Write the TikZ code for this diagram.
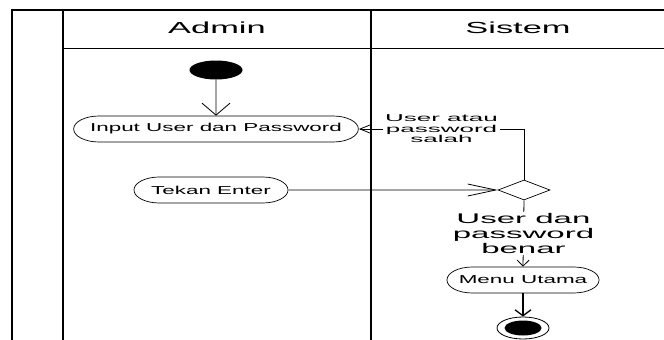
\documentclass[tikz,border=0pt]{standalone}
\usepackage{fontspec}
\setmainfont{Liberation Sans}
\usepackage{tikz}
\usetikzlibrary{shapes.geometric,shapes.misc,arrows.meta,positioning}

\begin{document}
\begin{tikzpicture}[x=1pt, y=-1pt,
    lane/.style={line width=1.6pt},
    headtext/.style={font=\fontsize{16}{19}\selectfont, xscale=2.15, transform shape},
    action/.style={draw, rounded rectangle, line width=0.7pt, inner xsep=0pt, inner ysep=0pt,
        minimum height=26pt, font=\fontsize{11.5}{13}\selectfont, xscale=1.95, transform shape},
    smallguard/.style={fill=white, align=center, inner sep=1pt,
        font=\fontsize{10}{10.5}\selectfont, xscale=2.6, transform shape},
    bigguard/.style={fill=white, align=center, inner sep=1pt,
        font=\fontsize{14}{15}\selectfont, xscale=2.36, transform shape},
    flow/.style={line width=0.8pt}]
    \useasboundingbox (0,0) rectangle (664,340);

    % swimlanes
    \draw[lane] (12,340) -- (12,10) -- (664,10);
    \draw[lane] (63,10) -- (63,340);
    \draw[lane] (371,10) -- (371,340);
    \draw[line width=0.9pt] (63,48) -- (664,48);
    \node[headtext] (admin) at (217,28) {Admin};
    \node[headtext] (sistem) at (518,28) {Sistem};

    % nodes
    \node[ellipse, fill=black, inner sep=0pt, minimum width=53pt, minimum height=19pt] (start) at (216,70) {};
    \node[action, minimum width=146pt] (input) at (216,129) {Input User dan Password};
    \node[action, minimum width=79pt] (enter) at (211,190) {Tekan Enter};
    \node[diamond, draw, line width=0.7pt, inner sep=0pt, minimum width=52pt, minimum height=20pt] (cek) at (524,190) {};
    \node[action, minimum width=78pt] (menu) at (523,280) {Menu Utama};
    \node[ellipse, draw, line width=0.8pt, inner sep=0pt, minimum width=52pt, minimum height=22pt] (endo) at (523,328) {};
    \node[ellipse, fill=black, inner sep=0pt, minimum width=37pt, minimum height=15pt] (endi) at (523,328) {};

    % flows
    \draw[flow, -{Straight Barb[length=12pt,width=28pt]}] (start) -- (input);
    \draw[flow, -{Straight Barb[length=28pt,width=12pt]}] (enter) -- (cek);
    \draw[flow, -{Straight Barb[length=11pt,width=9pt]}] (cek.north) |- node[smallguard, pos=0.75] {User atau\\password\\salah} (input.east);
    \draw[flow, -{Straight Barb[length=6pt,width=12pt]}] (cek.south) -- node[bigguard] {User dan\\password\\benar} (menu.north);
    \draw[line width=1.3pt, -{Straight Barb[length=6pt,width=16pt]}] (menu.south) -- (endo.north);
\end{tikzpicture}
\end{document}
